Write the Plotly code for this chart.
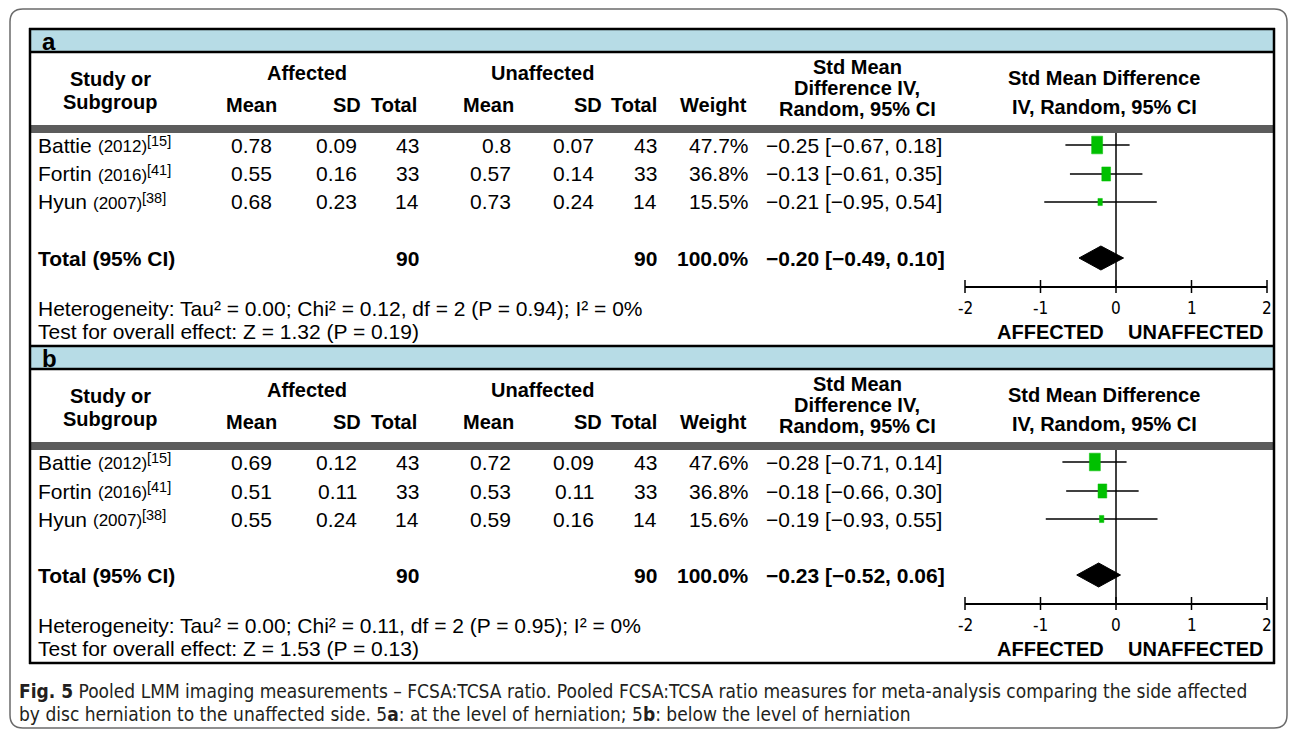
import subprocess
import plotly.graph_objects as go

W, H = 1290, 732

# ---------------- data ----------------
studies = ["Battie", "Fortin", "Hyun"]
years = ["2012", "2016", "2007"]
refs = ["15", "41", "38"]

# panel a : at the level of herniation
a_aff_mean = [0.78, 0.55, 0.68]
a_aff_sd = [0.09, 0.16, 0.23]
a_aff_n = [43, 33, 14]
a_un_mean = [0.8, 0.57, 0.73]
a_un_sd = [0.07, 0.14, 0.24]
a_un_n = [43, 33, 14]
a_weight = [47.7, 36.8, 15.5]
a_smd = [-0.25, -0.13, -0.21]
a_lo = [-0.67, -0.61, -0.95]
a_hi = [0.18, 0.35, 0.54]
a_pooled = [-0.20, -0.49, 0.10]
a_tau2, a_chi2, a_df, a_phet, a_i2 = "0.00", "0.12", 2, "0.94", "0"
a_z, a_pz = "1.32", "0.19"

# panel b : below the level of herniation
b_aff_mean = [0.69, 0.51, 0.55]
b_aff_sd = [0.12, 0.11, 0.24]
b_aff_n = [43, 33, 14]
b_un_mean = [0.72, 0.53, 0.59]
b_un_sd = [0.09, 0.11, 0.16]
b_un_n = [43, 33, 14]
b_weight = [47.6, 36.8, 15.6]
b_smd = [-0.28, -0.18, -0.19]
b_lo = [-0.71, -0.66, -0.93]
b_hi = [0.14, 0.30, 0.55]
b_pooled = [-0.23, -0.52, 0.06]
b_tau2, b_chi2, b_df, b_phet, b_i2 = "0.00", "0.11", 2, "0.95", "0"
b_z, b_pz = "1.53", "0.13"

tick_vals = [-2, -1, 0, 1, 2]
tick_labels = ["-2", "-1", "0", "1", "2"]
panel_labels = ["a", "b"]

caption1 = ("<b>Fig. 5</b> Pooled LMM imaging measurements \u2013 FCSA:TCSA ratio. Pooled FCSA:TCSA ratio "
            "measures for meta-analysis comparing the side affected")
caption2 = ("by disc herniation to the unaffected side. 5<b>a</b>: at the level of herniation; "
            "5<b>b</b>: below the level of herniation")

# ---------------- fonts ----------------
try:
    _fonts = subprocess.run(["fc-list", ":", "family"], capture_output=True, text=True, timeout=10).stdout
except Exception:
    _fonts = ""
SANS = "Liberation Sans, Arial, sans-serif"
if "Liberation Sans Narrow" in _fonts:
    NARROW, CAP_SIZE, TICK_SIZE = "Liberation Sans Narrow", 22, 19
else:
    NARROW, CAP_SIZE, TICK_SIZE = "DejaVu Sans Condensed", 19, 17

# Arial / Liberation Sans advance widths (1/1000 em) for width estimates
ADV = {" ": 278, "(": 333, ")": 333, "[": 278, "]": 278, "B": 667, "F": 611, "H": 722,
       "a": 556, "e": 556, "i": 222, "n": 556, "o": 556, "r": 333, "t": 278, "u": 556, "y": 500}


def tw(s, size):
    return sum(ADV.get(c, 556) for c in s) * size / 1000.0


# ---------------- geometry (pixels) ----------------
X_M2, X_P2 = 965.0, 1267.0          # pixel position of -2 and +2
PPU = (X_P2 - X_M2) / 4.0           # pixels per unit
XR = (-2.1, 2.1)
dom0 = (X_M2 - 0.1 * PPU) / W
dom1 = (X_P2 + 0.1 * PPU) / W

OFFS = [0, 317]
BOX_L, BOX_R = 30, 1274
ROW_Y = [145, 174, 202]
TOT_Y = 258
HET_Y = 308
TEST_Y = 331
AX_Y = 287
TICK_LAB_Y = 308
BODY = 21

fig = go.Figure()
shapes = []
ann = []


def px(x):
    return x / W


def py(y):
    return 1 - y / H


def text(x, y, s, size=BODY, bold=False, anchor="left", family=SANS, color="#000"):
    if bold:
        s = "<b>" + s + "</b>"
    ann.append(dict(x=px(x), y=py(y), xref="paper", yref="paper", text=s, showarrow=False,
                    xanchor=anchor, yanchor="middle", borderpad=0,
                    font=dict(size=size, family=family, color=color)))


def hline(x0, x1, y, color="#000", width=2.5):
    shapes.append(dict(type="line", xref="paper", yref="paper", x0=px(x0), x1=px(x1),
                       y0=py(y), y1=py(y), line=dict(color=color, width=width)))


def vline(x, y0, y1, color="#000", width=2.5):
    shapes.append(dict(type="line", xref="paper", yref="paper", x0=px(x), x1=px(x),
                       y0=py(y0), y1=py(y1), line=dict(color=color, width=width)))


def rect(x0, x1, y0, y1, fill):
    shapes.append(dict(type="rect", xref="paper", yref="paper", x0=px(x0), x1=px(x1),
                       y0=py(y0), y1=py(y1), fillcolor=fill, line=dict(width=0), layer="below"))


def fmt(v):
    return f"{v:.2f}".replace("-", "\u2212")


# outer rounded frame
r = 13
L, T, R, B = 10, 9, 1287, 728
pts = [("M", L + r, T), ("L", R - r, T), ("Q", R, T, R, T + r), ("L", R, B - r), ("Q", R, B, R - r, B),
       ("L", L + r, B), ("Q", L, B, L, B - r), ("L", L, T + r), ("Q", L, T, L + r, T)]
path = ""
for p in pts:
    if p[0] == "Q":
        path += f"Q{px(p[1])},{py(p[2])} {px(p[3])},{py(p[4])} "
    else:
        path += f"{p[0]}{px(p[1])},{py(p[2])} "
path += "Z"
shapes.append(dict(type="path", xref="paper", yref="paper", path=path,
                   line=dict(color="#6b6b6b", width=1.5)))

panels = [
    (a_aff_mean, a_aff_sd, a_aff_n, a_un_mean, a_un_sd, a_un_n, a_weight, a_smd, a_lo, a_hi, a_pooled,
     a_tau2, a_chi2, a_df, a_phet, a_i2, a_z, a_pz),
    (b_aff_mean, b_aff_sd, b_aff_n, b_un_mean, b_un_sd, b_un_n, b_weight, b_smd, b_lo, b_hi, b_pooled,
     b_tau2, b_chi2, b_df, b_phet, b_i2, b_z, b_pz),
]

for k, (am, asd, an, um, usd, un, wt, smd, lo, hi, pooled, tau2, chi2, dfv, phet, i2, z, pz) in enumerate(panels):
    o = OFFS[k]
    # header band
    rect(BOX_L, BOX_R, 29 + o, 52 + o, "#b7dce6")
    hline(BOX_L - 1, BOX_R + 1, 29 + o)
    hline(BOX_L, BOX_R, 52 + o)
    text(41, 41 + o, panel_labels[k], size=24, bold=True)
    # column headers
    text(110, 79 + o, "Study or", size=20, bold=True, anchor="center")
    text(110, 102 + o, "Subgroup", size=20, bold=True, anchor="center")
    text(307, 73 + o, "Affected", size=20, bold=True, anchor="center")
    text(542, 73 + o, "Unaffected", size=20, bold=True, anchor="center")
    text(251, 105 + o, "Mean", size=20, bold=True, anchor="center")
    text(362, 105 + o, "SD", size=20, bold=True, anchor="right")
    text(418, 105 + o, "Total", size=20, bold=True, anchor="right")
    text(515, 105 + o, "Mean", size=20, bold=True, anchor="right")
    text(603, 105 + o, "SD", size=20, bold=True, anchor="right")
    text(658, 105 + o, "Total", size=20, bold=True, anchor="right")
    text(748, 105 + o, "Weight", size=20, bold=True, anchor="right")
    text(857, 67 + o, "Std Mean", size=20, bold=True, anchor="center")
    text(857, 88 + o, "Difference IV,", size=20, bold=True, anchor="center")
    text(857, 109 + o, "Random, 95% CI", size=20, bold=True, anchor="center")
    text(1104, 78 + o, "Std Mean Difference", size=20, bold=True, anchor="center")
    text(1104, 107 + o, "IV, Random, 95% CI", size=20, bold=True, anchor="center")
    # gray separator
    rect(BOX_L, BOX_R, 125 + o, 133 + o, "#5c5c5c")
    # study rows
    for i in range(3):
        y = ROW_Y[i] + o
        name = studies[i] + " "
        yr = "(" + years[i] + ")"
        sup = "[" + refs[i] + "]"
        x0 = 37
        text(x0, y, studies[i])
        x1 = x0 + tw(name, BODY)
        text(x1, y + 1.4, yr, size=17)
        x2 = x1 + tw(yr, 17)
        text(x2, y - 4, sup, size=14.5)
        text(251, y, str(am[i]), anchor="center")
        text(358, y, str(asd[i]), anchor="right")
        text(420, y, str(an[i]), anchor="right")
        text(512, y, str(um[i]), anchor="right")
        text(595, y, str(usd[i]), anchor="right")
        text(658, y, str(un[i]), anchor="right")
        text(750, y, f"{wt[i]:.1f}%", anchor="right")
        text(765, y, f"{fmt(smd[i])} [{fmt(lo[i])}, {fmt(hi[i])}]")
    # total row
    y = TOT_Y + o
    text(37, y, "Total (95% CI)", bold=True)
    text(420, y, str(sum(an)), bold=True, anchor="right")
    text(658, y, str(sum(un)), bold=True, anchor="right")
    text(750, y, f"{sum(wt):.1f}%", bold=True, anchor="right")
    text(765, y, f"{fmt(pooled[0])} [{fmt(pooled[1])}, {fmt(pooled[2])}]", bold=True)
    text(37, HET_Y + o, f"Heterogeneity: Tau\u00b2 = {tau2}; Chi\u00b2 = {chi2}, df = {dfv} (P = {phet}); "
                        f"I\u00b2 = {i2}%")
    text(37, TEST_Y + o, f"Test for overall effect: Z = {z} (P = {pz})")
    text(1105, TEST_Y + 1 + o, "AFFECTED", size=20, bold=True, anchor="right")
    text(1127, TEST_Y + 1 + o, "UNAFFECTED", size=20, bold=True, anchor="left")

    # ------- forest plot marks (data coordinates) -------
    rows = [ry + o for ry in ROW_Y]
    xs, ys = [], []
    for l_, h_, yy in zip(lo, hi, rows):
        xs += [l_, h_, None]
        ys += [yy, yy, None]
    # zero line
    fig.add_trace(go.Scatter(x=[0, 0], y=[133 + o, AX_Y + o], mode="lines",
                             line=dict(color="#000", width=1.5), hoverinfo="skip"))
    fig.add_trace(go.Scatter(x=xs, y=ys, mode="lines", line=dict(color="#000", width=1.5),
                             hoverinfo="skip"))
    bx, by = [], []
    for e, w_, yy in zip(smd, wt, rows):
        hgt = 0.33 * w_ + 2
        hw = 0.62 * hgt / 2 / PPU
        bx += [e - hw, e + hw, e + hw, e - hw, e - hw, None]
        by += [yy - hgt / 2, yy - hgt / 2, yy + hgt / 2, yy + hgt / 2, yy - hgt / 2, None]
    fig.add_trace(go.Scatter(x=bx, y=by, mode="lines", fill="toself", fillcolor="#00c000",
                             line=dict(color="#00c000", width=0.5), hoverinfo="skip"))
    # diamond
    cy = TOT_Y + o
    fig.add_trace(go.Scatter(x=[pooled[1], pooled[0], pooled[2], pooled[0], pooled[1]],
                             y=[cy, cy - 12, cy, cy + 12, cy], mode="lines", fill="toself",
                             fillcolor="#000", line=dict(color="#000", width=1), hoverinfo="skip"))
    # axis line, ticks and tick labels
    fig.add_trace(go.Scatter(x=[tick_vals[0], tick_vals[-1]], y=[AX_Y + o, AX_Y + o], mode="lines",
                             line=dict(color="#000", width=2), hoverinfo="skip"))
    tx, ty = [], []
    for t in tick_vals:
        tx += [t, t, None]
        ty += [AX_Y - 7 + o, AX_Y + 6 + o, None]
    fig.add_trace(go.Scatter(x=tx, y=ty, mode="lines", line=dict(color="#000", width=1.5),
                             hoverinfo="skip"))
    for t, lab in zip(tick_vals, tick_labels):
        ann.append(dict(x=t, y=TICK_LAB_Y + o, xref="x", yref="y", text=lab, showarrow=False,
                        xanchor="center", yanchor="middle", borderpad=0,
                        font=dict(family=NARROW, size=TICK_SIZE, color="#000")))

# panel frame lines
vline(BOX_L, 28, 663 + 1)
vline(BOX_R, 28, 663 + 1)
hline(BOX_L - 1, BOX_R + 1, 663)

# caption
text(18, 691, caption1, size=CAP_SIZE, family=NARROW, color="#231f20")
text(18, 714, caption2, size=CAP_SIZE, family=NARROW, color="#231f20")

fig.update_layout(
    width=W, height=H, margin=dict(l=0, r=0, t=0, b=0),
    paper_bgcolor="white", plot_bgcolor="rgba(0,0,0,0)",
    showlegend=False, hovermode=False,
    xaxis=dict(range=list(XR), domain=[dom0, dom1], visible=False, fixedrange=True),
    yaxis=dict(range=[H, 0], domain=[0, 1], visible=False, fixedrange=True),
    shapes=shapes, annotations=ann,
)

fig.write_html("out.html", config={"displayModeBar": False},
               post_script="document.body.style.margin='0px';document.body.style.overflow='hidden';")
